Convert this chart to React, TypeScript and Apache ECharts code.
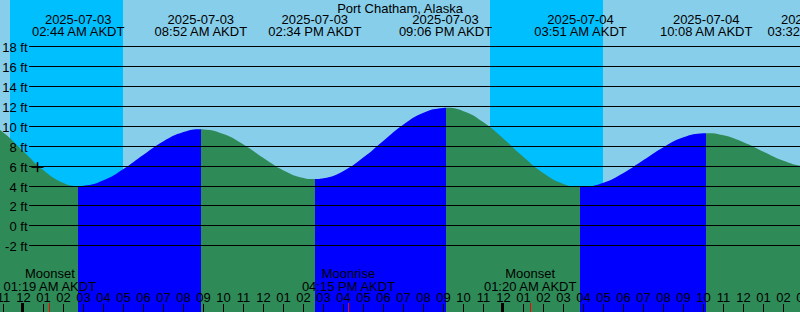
import React, { useEffect, useRef } from 'react';
import * as echarts from 'echarts';

const STATION = 'Port Chatham, Alaska';

// Hours counted from 2025-07-03 00:00 AKDT; heights in feet
const tideHours = [
  -2, -1, 0, 1, 2, 2.733, 3, 4, 5, 6, 7, 8, 8.867, 9, 10, 11, 12, 13, 14, 14.567,
  15, 16, 17, 18, 19, 20, 21, 21.1, 22, 23, 24, 25, 26, 27, 27.85, 28, 29, 30, 31,
  32, 33, 34, 34.133, 35, 36, 37, 38, 39, 39.533,
];
const tideFeet = [
  10.67, 9.36, 7.47, 5.58, 4.3, 4.0, 4.03, 4.58, 5.72, 7.14, 8.5, 9.42, 9.7, 9.69, 9.23, 8.17, 6.81, 5.57, 4.82, 4.7,
  4.78, 5.52, 6.88, 8.56, 10.18, 11.36, 11.84, 11.85, 11.51, 10.4, 8.75, 6.91, 5.28, 4.21, 3.9, 3.91, 4.33, 5.32, 6.61,
  7.9, 8.89, 9.29, 9.3, 9.09, 8.39, 7.44, 6.53, 5.98, 5.9,
];

const extremeHours = [2.733, 8.867, 14.567, 21.1, 27.85, 34.133, 39.533];
const extremeKinds = ['low', 'high', 'low', 'high', 'low', 'high', 'low'];
const extremeDates = ['2025-07-03', '2025-07-03', '2025-07-03', '2025-07-03', '2025-07-04', '2025-07-04', '2025-07-04'];
const extremeTimes = ['02:44 AM AKDT', '08:52 AM AKDT', '02:34 PM AKDT', '09:06 PM AKDT', '03:51 AM AKDT', '10:08 AM AKDT', '03:32 PM AKDT'];

const moonHours = [1.317, 16.25, 25.333];
const moonNames = ['Moonset', 'Moonrise', 'Moonset'];
const moonTimes = ['01:19 AM AKDT', '04:15 PM AKDT', '01:20 AM AKDT'];

const nightStartHours = [-0.675, 23.325];
const nightEndHours = [4.975, 28.975];

const depthTicks = [-2, 0, 2, 4, 6, 8, 10, 12, 14, 16, 18];
const hourTicks = Array.from({ length: 41 }, (_, i) => i - 1); // -1 .. 39
const midnightHours = [0, 24];

const nowHour = 0.7;
const nowFeet = 5.9;

const X_MIN = -1.175;
const X_MAX = 38.825;
const Y_MIN = -8.645;
const Y_MAX = 22.681;

const SKY_DAY = '#87CEEB';
const SKY_NIGHT = '#00BFFF';
const RISING = '#0000FF';
const FALLING = '#2E8B57';
const FONT = '13px "Liberation Sans", Arial, Helvetica, sans-serif';

function hourLabel(h: number) {
  const hod = ((h % 24) + 24) % 24;
  const h12 = hod % 12 === 0 ? 12 : hod % 12;
  return String(h12).padStart(2, '0');
}

function txt(x: number, y: number, text: string, align: string = 'center') {
  return {
    type: 'text',
    x,
    y,
    silent: true,
    style: {
      text,
      fill: '#000',
      font: FONT,
      align,
      verticalAlign: 'middle',
      textAlign: align,
      textVerticalAlign: 'middle',
    },
  };
}

export default function App() {
  const ref = useRef<HTMLDivElement>(null);

  useEffect(() => {
    document.body.style.margin = '0';
    if (!ref.current) return;
    const chart = echarts.init(ref.current, null, { renderer: 'svg' });

    const tideData = tideHours.map((h, i) => [h, tideFeet[i]]);

    const pieces: any[] = [];
    let prev: number | undefined = undefined;
    extremeHours.forEach((h, i) => {
      const color = extremeKinds[i] === 'low' ? FALLING : RISING;
      pieces.push(prev === undefined ? { lt: h, color } : { gte: prev, lt: h, color });
      prev = h;
    });
    pieces.push({ gte: prev, color: extremeKinds[extremeKinds.length - 1] === 'low' ? RISING : FALLING });

    const option: any = {
      animation: false,
      backgroundColor: SKY_DAY,
      grid: { left: 0, right: 0, top: 0, bottom: 0 },
      xAxis: { type: 'value', min: X_MIN, max: X_MAX, show: false },
      yAxis: { type: 'value', min: Y_MIN, max: Y_MAX, show: false },
      visualMap: { type: 'piecewise', show: false, dimension: 0, seriesIndex: 1, pieces },
      graphic: [
        {
          type: 'text',
          x: 400,
          y: 8,
          silent: true,
          style: { text: STATION, fill: '#000', font: FONT, align: 'center', verticalAlign: 'middle', textAlign: 'center', textVerticalAlign: 'middle' },
          z: 10,
        },
      ],
      series: [
        {
          type: 'custom',
          name: 'night',
          z: 1,
          silent: true,
          data: nightStartHours.map((s, i) => [s, nightEndHours[i]]),
          renderItem: (params: any, api: any) => {
            const x0 = api.coord([api.value(0), 0])[0];
            const x1 = api.coord([api.value(1), 0])[0];
            return { type: 'rect', shape: { x: x0, y: 0, width: x1 - x0, height: api.getHeight() }, style: { fill: SKY_NIGHT } };
          },
        },
        {
          type: 'line',
          name: 'tide',
          z: 2,
          silent: true,
          data: tideData,
          smooth: true,
          symbol: 'none',
          lineStyle: { width: 0, opacity: 0 },
          areaStyle: { origin: 'start', opacity: 1 },
        },
        {
          type: 'custom',
          name: 'depth grid',
          z: 3,
          silent: true,
          data: depthTicks.map((v) => [0, v]),
          renderItem: (params: any, api: any) => {
            const v = api.value(1);
            const y = Math.floor(api.coord([0, v])[1]) + 0.5;
            return {
              type: 'group',
              children: [
                { type: 'line', shape: { x1: 29, y1: y, x2: api.getWidth(), y2: y }, style: { stroke: '#000', lineWidth: 1 } },
                txt(27.5, y + 0.5, `${v} ft`, 'right'),
              ],
            };
          },
        },
        {
          type: 'custom',
          name: 'extremes',
          z: 4,
          silent: true,
          data: extremeHours.map((h, i) => [h, i]),
          renderItem: (params: any, api: any) => {
            const i = params.dataIndex;
            const x = api.coord([api.value(0), 0])[0];
            return {
              type: 'group',
              children: [txt(x, 19.5, extremeDates[i]), txt(x, 31.5, extremeTimes[i])],
            };
          },
        },
        {
          type: 'custom',
          name: 'moon',
          z: 4,
          silent: true,
          data: moonHours.map((h, i) => [h, i]),
          renderItem: (params: any, api: any) => {
            const i = params.dataIndex;
            const x = api.coord([api.value(0), 0])[0];
            const H = api.getHeight();
            return {
              type: 'group',
              children: [
                txt(x, 273.7, moonNames[i]),
                txt(x, 286.2, moonTimes[i]),
                { type: 'rect', shape: { x: Math.floor(x), y: H - 9, width: 1, height: 9 }, style: { fill: '#FF0000' }, z2: 5 },
              ],
            };
          },
        },
        {
          type: 'custom',
          name: 'hours',
          z: 4,
          silent: true,
          data: hourTicks.map((h) => [h, 0]),
          renderItem: (params: any, api: any) => {
            const h = api.value(0);
            const x = api.coord([h, 0])[0];
            const H = api.getHeight();
            return {
              type: 'group',
              children: [
                { type: 'line', shape: { x1: x, y1: H - 8, x2: x, y2: H }, style: { stroke: '#000', lineWidth: 1 } },
                txt(x, 297.8, hourLabel(h)),
              ],
            };
          },
        },
        {
          type: 'custom',
          name: 'midnight',
          z: 4,
          silent: true,
          data: midnightHours.map((h) => [h, 0]),
          renderItem: (params: any, api: any) => {
            const x = api.coord([api.value(0), 0])[0];
            const H = api.getHeight();
            return { type: 'rect', shape: { x: x - 2.5, y: H - 9, width: 3, height: 9 }, style: { fill: '#000' } };
          },
        },
        {
          type: 'custom',
          name: 'now',
          z: 5,
          silent: true,
          data: [[nowHour, nowFeet]],
          renderItem: (params: any, api: any) => {
            const p = api.coord([api.value(0), api.value(1)]);
            return {
              type: 'group',
              children: [
                { type: 'line', shape: { x1: p[0] - 6, y1: p[1], x2: p[0] + 6, y2: p[1] }, style: { stroke: '#000', lineWidth: 1.5 } },
                { type: 'line', shape: { x1: p[0], y1: p[1] - 5, x2: p[0], y2: p[1] + 5 }, style: { stroke: '#000', lineWidth: 1.5 } },
              ],
            };
          },
        },
      ],
    };

    chart.setOption(option);
    return () => {
      chart.dispose();
    };
  }, []);

  return <div ref={ref} style={{ position: 'fixed', left: 0, top: 0, width: 800, height: 312 }} />;
}
